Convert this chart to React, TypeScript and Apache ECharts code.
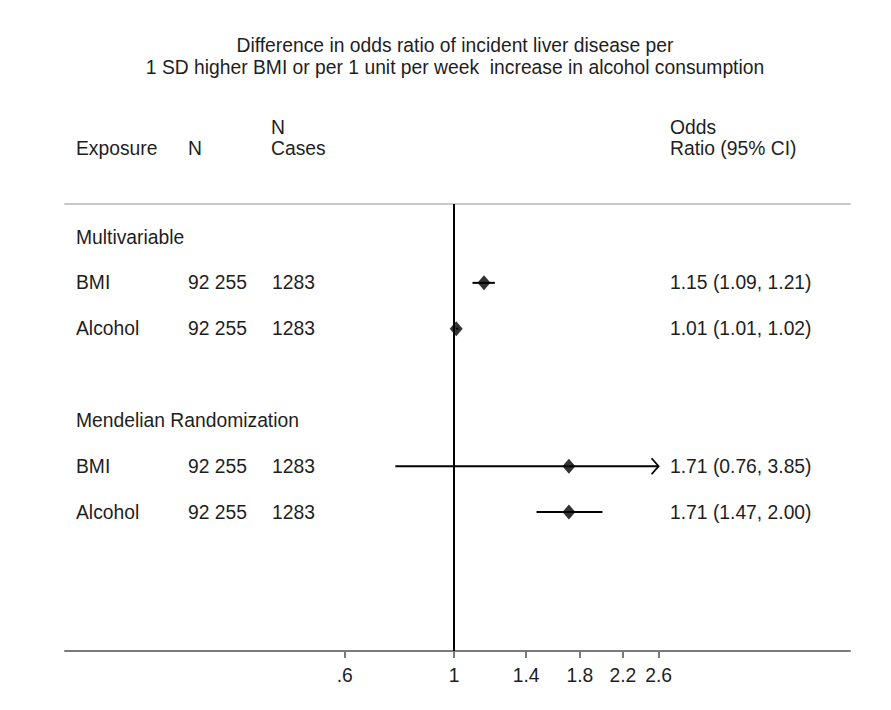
import React, { useEffect, useRef } from "react";
import * as echarts from "echarts";

// ---- data ----
const titleLines = [
  "Difference in odds ratio of incident liver disease per",
  "1 SD higher BMI or per 1 unit per week  increase in alcohol consumption",
];
const groupNames = ["Multivariable", "Mendelian Randomization"];
const groupRows = [0, 4];
const exposures = ["BMI", "Alcohol", "BMI", "Alcohol"];
const exposureRows = [1, 2, 5, 6];
const nTotal = ["92 255", "92 255", "92 255", "92 255"];
const nCases = ["1283", "1283", "1283", "1283"];
const oddsRatios = [1.15, 1.01, 1.71, 1.71];
const ciLower = [1.09, 1.01, 0.76, 1.47];
const ciUpper = [1.21, 1.02, 3.85, 2.0];
const tickValues = [0.6, 1, 1.4, 1.8, 2.2, 2.6];
const tickLabels = [".6", "1", "1.4", "1.8", "2.2", "2.6"];
const ciCap = 2.6;

const FONT = "'Liberation Sans', Arial, sans-serif";
const FS = 19.3;
const TXT = "#1e1e1e";

export default function App() {
  const ref = useRef<HTMLDivElement>(null);
  useEffect(() => {
    document.body.style.margin = "0";
    if (!ref.current) return;
    const chart = echarts.init(ref.current, null, { renderer: "svg" });
    const lnTicks = tickValues.map((t) => Math.log(t));
    const xMin = -1.818;
    const xMax = 1.85;

    const textStyle = (text: string, x: number, y: number, align = "left") => ({
      type: "text",
      x,
      y,
      style: {
        text,
        fill: TXT,
        font: `${FS}px ${FONT}`,
        textAlign: align,
        textVerticalAlign: "middle",
      },
    });

    const option: any = {
      animation: false,
      backgroundColor: "#ffffff",
      grid: { left: 65, right: 41, top: 204, bottom: 59, containLabel: false },
      xAxis: [
        {
          type: "value",
          position: "bottom",
          min: xMin,
          max: xMax,
          splitLine: { show: false },
          axisLine: { show: true, onZero: false, lineStyle: { color: "#7a7a7a", width: 2 } },
          axisTick: {
            show: true,
            customValues: lnTicks,
            length: 7,
            lineStyle: { color: "#7a7a7a", width: 2 },
          },
          axisLabel: {
            show: true,
            customValues: lnTicks,
            margin: 15,
            color: TXT,
            fontFamily: FONT,
            fontSize: FS,
            formatter: (v: number) => {
              const i = lnTicks.findIndex((t) => Math.abs(t - v) < 1e-6);
              return i >= 0 ? tickLabels[i] : "";
            },
          },
        },
        {
          type: "value",
          position: "top",
          min: xMin,
          max: xMax,
          splitLine: { show: false },
          axisLine: { show: true, onZero: false, lineStyle: { color: "#c8c8c8", width: 2 } },
          axisTick: { show: false },
          axisLabel: { show: false },
        },
      ],
      yAxis: {
        type: "value",
        inverse: true,
        min: -0.72,
        max: 9.03,
        show: false,
      },
      graphic: [
        textStyle(titleLines[0], 455, 45, "center"),
        textStyle(titleLines[1], 455, 67, "center"),
        textStyle("Exposure", 76, 148),
        textStyle("N", 188, 148),
        textStyle("N", 271, 127),
        textStyle("Cases", 271, 148),
        textStyle("Odds", 670, 127),
        textStyle("Ratio (95% CI)", 670, 148),
      ],
      series: [
        {
          type: "custom",
          name: "groups",
          data: groupRows.map((r) => [0, r]),
          renderItem: (params: any, api: any) => {
            const p = api.coord([0, api.value(1)]);
            return {
              type: "text",
              x: 76,
              y: p[1],
              style: {
                text: groupNames[params.dataIndex],
                fill: TXT,
                font: `${FS}px ${FONT}`,
                textAlign: "left",
                textVerticalAlign: "middle",
              },
            };
          },
        },
        {
          type: "custom",
          name: "rows",
          data: exposureRows.map((r) => [0, r]),
          renderItem: (params: any, api: any) => {
            const i = params.dataIndex;
            const y = api.coord([0, api.value(1)])[1];
            const orText = `${oddsRatios[i].toFixed(2)} (${ciLower[i].toFixed(2)}, ${ciUpper[i].toFixed(2)})`;
            const cols: [string, number][] = [
              [exposures[i], 76],
              [nTotal[i], 188],
              [nCases[i], 272],
              [orText, 670],
            ];
            return {
              type: "group",
              children: cols.map(([t, x]) => ({
                type: "text",
                x,
                y,
                style: {
                  text: t,
                  fill: TXT,
                  font: `${FS}px ${FONT}`,
                  textAlign: "left",
                  textVerticalAlign: "middle",
                },
              })),
            };
          },
        },
        {
          type: "custom",
          name: "ci",
          data: exposureRows.map((r, i) => [Math.log(ciLower[i]), Math.log(Math.min(ciUpper[i], ciCap)), r, ciUpper[i] > ciCap ? 1 : 0]),
          renderItem: (params: any, api: any) => {
            const a = api.coord([api.value(0), api.value(2)]);
            const b = api.coord([api.value(1), api.value(2)]);
            const children: any[] = [
              {
                type: "line",
                shape: { x1: a[0], y1: a[1], x2: b[0], y2: b[1] },
                style: { stroke: "#000", lineWidth: 2 },
              },
            ];
            if (api.value(3) === 1) {
              children.push({
                type: "polyline",
                shape: { points: [[b[0] - 7, b[1] - 8], [b[0], b[1]], [b[0] - 7, b[1] + 8]] },
                style: { stroke: "#000", lineWidth: 1.8, fill: "none" },
              });
            }
            return { type: "group", children };
          },
        },
        {
          type: "scatter",
          name: "or",
          symbol: "diamond",
          symbolSize: [13, 15],
          itemStyle: { color: "#000" },
          data: exposureRows.map((r, i) => [Math.log(oddsRatios[i]), r]),
          markLine: {
            silent: true,
            symbol: "none",
            label: { show: false },
            lineStyle: { color: "#000", width: 2, type: "solid" },
            data: [{ xAxis: 0 }],
          },
          z: 5,
        },
      ],
    };
    chart.setOption(option);
    return () => chart.dispose();
  }, []);
  return <div ref={ref} style={{ width: 891, height: 710 }} />;
}
